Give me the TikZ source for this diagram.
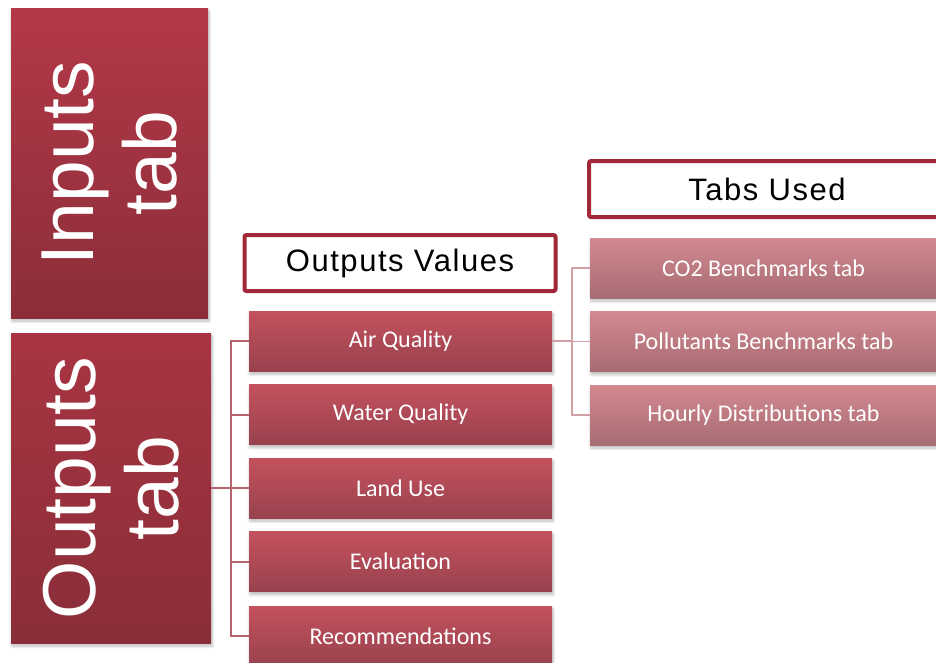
\documentclass[tikz,border=0pt]{standalone}
\usepackage{fontspec}
\usetikzlibrary{shadows.blur}
\newfontfamily\carl{Carlito}
\newfontfamily\helv{Liberation Sans}
\newfontfamily\helvsp[LetterSpace=5]{Liberation Sans}

\definecolor{tabtopA}{HTML}{B43848}
\definecolor{tabbotA}{HTML}{8B2E3A}
\definecolor{tabtopB}{HTML}{A93442}
\definecolor{tabbotB}{HTML}{892E39}
\definecolor{itemtop}{HTML}{C4515E}
\definecolor{itembot}{HTML}{98424E}
\definecolor{usedtop}{HTML}{D38990}
\definecolor{usedbot}{HTML}{A76B72}
\definecolor{headline}{HTML}{A02837}
\definecolor{linkA}{HTML}{B5646D}
\definecolor{linkB}{HTML}{D0A0A5}

\tikzset{
  softshadow/.style={blur shadow={shadow blur steps=6, shadow xshift=1pt,
      shadow yshift=-3pt, shadow opacity=28, shadow blur radius=3pt}},
  bigtab/.style={rectangle, inner sep=0pt, softshadow},
  bigtext/.style={rotate=90, align=center, text=white,
      font=\helv\fontsize{75}{83}\selectfont},
  itembox/.style={rectangle, inner sep=0pt, minimum width=303pt,
      minimum height=60pt, top color=itemtop, bottom color=itembot,
      text=white, font=\carl\fontsize{24}{29}\selectfont, softshadow},
  usedbox/.style={rectangle, inner sep=0pt, minimum width=347pt,
      minimum height=60pt, top color=usedtop, bottom color=usedbot,
      text=white, font=\carl\fontsize{24}{29}\selectfont, softshadow},
  headbox/.style={rectangle, draw=headline, line width=4pt, fill=white,
      rounded corners=2pt, inner sep=0pt, minimum height=56pt,
      font=\helvsp\fontsize{31}{36}\selectfont, text=black},
  linkleft/.style={draw=linkA, line width=2pt},
  linkright/.style={draw=linkB, line width=1.6pt},
}

\begin{document}
\begin{tikzpicture}[x=1pt, y=-1pt]
  \useasboundingbox (0,0) rectangle (936,662);
  \clip (0,0) rectangle (936,662);

  % left-hand tabs
  \node[bigtab, minimum width=197pt, minimum height=310pt,
        top color=tabtopA, bottom color=tabbotA] (inputs) at (109.5,163) {};
  \node[bigtext] (inputstxt) at (inputs.center) {Inputs\\tab};

  \node[bigtab, minimum width=200pt, minimum height=310pt,
        top color=tabtopB, bottom color=tabbotB] (outputs) at (111,488) {};
  \node[bigtext] (outputstxt) at (outputs.center) {Outputs\\tab};

  % headers
  \node[headbox, minimum width=311pt] (ovhead) at (400,263) {Outputs Values};
  \node[headbox, minimum width=356pt] (tuhead) at (767,189) {Tabs Used};

  % output values
  \node[itembox] (air)   at (400.5,341)   {Air Quality};
  \node[itembox] (water) at (400.5,414.5) {Water Quality};
  \node[itembox] (land)  at (400.5,488)   {Land Use};
  \node[itembox] (eval)  at (400.5,561.5) {Evaluation};
  \node[itembox] (rec)   at (400.5,636)   {Recommendations};

  % tabs used
  \node[usedbox] (co2)  at (763.5,268)   {CO2 Benchmarks tab};
  \node[usedbox] (poll) at (763.5,341.5) {Pollutants Benchmarks tab};
  \node[usedbox] (hour) at (763.5,415)   {Hourly Distributions tab};

  % connectors
  \coordinate (spineA) at (231,488);
  \foreach \c in {air,water,land,eval,rec}
    \path[linkleft] (outputs.east) -- (spineA) |- (\c.west);

  \coordinate (spineB) at (572,341);
  \foreach \c in {co2,poll,hour}
    \path[linkright] (air.east) -- (spineB) |- (\c.west);
\end{tikzpicture}
\end{document}
